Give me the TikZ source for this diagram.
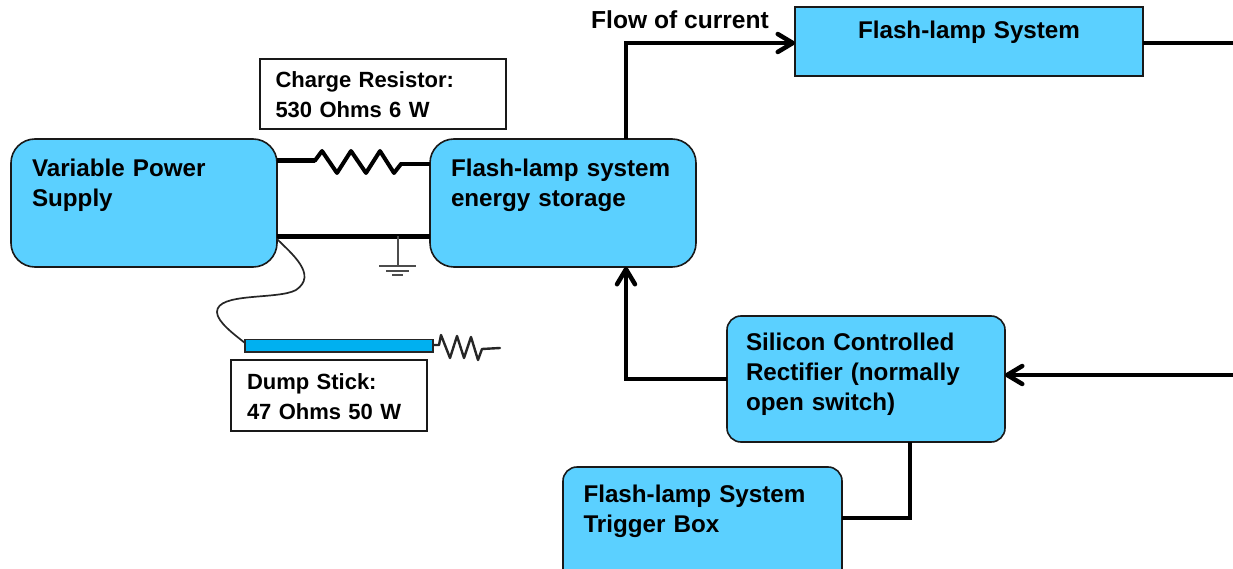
\documentclass[tikz,border=0pt]{standalone}
\usepackage{fontspec}
\setmainfont{Liberation Sans}
\usetikzlibrary{arrows.meta}
\tikzset{
  boxbase/.style={draw=black!90,anchor=north west,inner ysep=0pt,outer sep=0pt,align=left,
    font=\fontsize{24.2}{30}\selectfont\bfseries,line width=1.6pt},
  bluebox/.style={boxbase,fill=blue1,rounded corners=#1},
  labelbox/.style={boxbase,fill=white,font=\fontsize{22}{30}\selectfont\bfseries},
  wire/.style={line width=4.7pt,line cap=butt,line join=miter},
  thinwire/.style={line width=2.4pt,line join=round,line cap=round,draw=black!85},
  tip/.style={-{Straight Barb[length=15pt,width=18pt,line width=4.5pt,round]}},
}
\definecolor{blue1}{HTML}{5BD0FF}
\definecolor{blue2}{HTML}{00B0F0}
\begin{document}
\begin{tikzpicture}[x=1pt,y=-1pt]
\clip (0,0) rectangle (1233,569);
\fill[white] (0,0) rectangle (1233,569);

\coordinate (rTop) at (1233,43);
\coordinate (rBot) at (1233,375);

\node[bluebox=24pt,inner xsep=21pt,text width=224pt,text height=38pt,text depth=90pt] (vps) at (11,139) {Variable Power\\Supply};
\node[bluebox=24pt,inner xsep=21pt,text width=224pt,text height=38pt,text depth=90pt] (store) at (430,139) {Flash-lamp system\\energy storage};
\node[boxbase,fill=blue1,inner xsep=0pt,text width=348pt,align=center,text height=32pt,text depth=37pt] (lamp) at (795,7) {Flash-lamp System};
\node[bluebox=14pt,inner xsep=19pt,text width=240pt,text height=34pt,text depth=92pt] (scr) at (727,316) {Silicon Controlled\\Rectifier (normally\\open switch)};
\node[bluebox=14pt,inner xsep=20.5pt,text width=238pt,text height=35.5pt,text depth=80pt] (trig) at (563,467) {Flash-lamp System\\Trigger Box};
\node[labelbox,inner xsep=15.5pt,text width=215pt,text height=29pt,text depth=41pt] (charge) at (260,59) {Charge Resistor:\\530 Ohms 6 W};
\node[labelbox,inner xsep=16pt,text width=164pt,text height=29pt,text depth=42pt] (dump) at (231,360) {Dump Stick:\\47 Ohms 50 W};
\node[draw=black!85,fill=blue2,line width=1.2pt,anchor=north west,inner sep=0pt,outer sep=0pt,minimum width=188pt,minimum height=12.5pt] (stick) at (245,339.5) {};
\node[anchor=base west,inner sep=0pt,font=\fontsize{24.6}{30}\selectfont\bfseries] (flow) at (591,29) {Flow of current};

% charge resistor
\draw[wire] (vps.east |- 0,160.5) -- (315,160.5);
\draw[line width=4pt,line join=round,line cap=round] (315,160.5) -- (322,151) -- (337,173) -- (351,151) -- (366,173) -- (380,151) -- (394,173) -- (401,164);
\draw[wire] (400,164) -- (store.west |- 0,164);
% return and ground
\draw[wire] (vps.east |- 0,236.5) -- (store.west |- 0,236.5);
\coordinate (gnd) at (398,236.5);
\draw[line width=1.7pt,draw=black!70] (gnd) -- (398,266);
\draw[line width=1.7pt,draw=black!70] (379,266) -- (416,266);
\draw[line width=1.7pt,draw=black!70] (386,271) -- (409,271);
\draw[line width=1.7pt,draw=black!70] (392,275) -- (403,275);
% dump stick
\draw[thinwire,line width=1.7pt] (vps.south east) ++(0,-28) .. controls (292,254) and (318,275) .. (296,290) .. controls (278,300) and (217,292) .. (217,312) .. controls (217,322) and (235,335) .. (stick.west |- 0,343);
\draw[thinwire] (stick.east |- 0,345) -- (439,345) -- (441,335) -- (450,358) -- (457,336) -- (464,358) -- (471,337) -- (478,360) -- (482,349) -- (500,348);
% main wires
\draw[wire,tip] (store.north -| 626,0) -- (626,43) -- (lamp.west |- 0,43);
\draw[wire] (lamp.east |- 0,43) -- (rTop);
\draw[wire,tip] (rBot) -- (scr.east |- 0,375);
\draw[wire,tip] (scr.west |- 0,379) -- (626,379) -- (store.south -| 626,0);
\draw[wire] (scr.south -| 910,0) -- (910,518) -- (trig.east |- 0,518);
\end{tikzpicture}
\end{document}
